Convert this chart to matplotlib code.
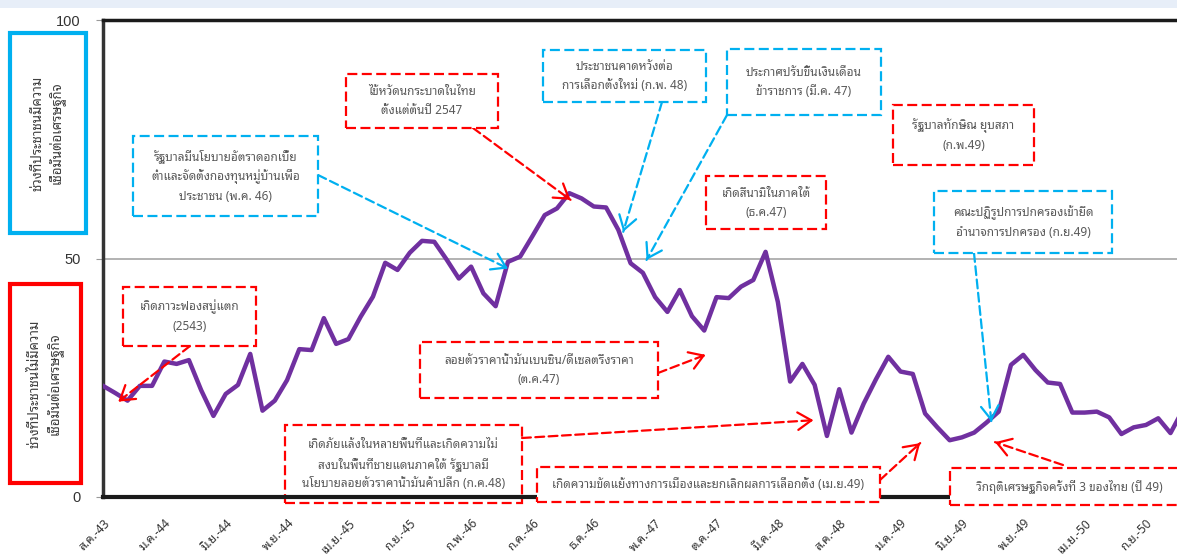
import matplotlib
matplotlib.use("Agg")
import matplotlib.pyplot as plt
from matplotlib.patches import Rectangle
import numpy as np

# ดัชนีความเชื่อมั่น รายเดือน ตั้งแต่ ส.ค.-43
values = [23.3, 21.8, 20.2, 23.3, 23.3, 28.4, 27.9, 28.7, 22.4, 17.0,
          21.6, 23.5, 30.0, 18.1, 20.2, 24.5, 31.0, 30.8, 37.5, 32.1,
          33.1, 37.8, 42.0, 49.1, 47.6, 51.2, 53.7, 53.5, 49.8, 45.8,
          48.3, 42.7, 40.0, 49.3, 50.4, 54.7, 59.1, 60.5, 63.7, 62.6,
          60.9, 60.7, 56.0, 49.0, 47.0, 41.9, 38.8, 43.4, 37.9, 34.9,
          41.9, 41.7, 44.1, 45.5, 51.4, 40.9, 24.2, 27.9, 23.5, 12.8,
          22.6, 13.5, 19.6, 24.7, 29.4, 26.3, 25.8, 17.5, 14.6, 11.9,
          12.5, 13.5, 15.6, 17.9, 27.7, 29.8, 26.6, 24.0, 23.7, 17.7,
          17.7, 17.9, 16.7, 13.2, 14.6, 15.1, 16.5, 13.4, 18.2]

tick_labels = ['ส.ค.-43', 'ม.ค.-44', 'มิ.ย.-44', 'พ.ย.-44', 'เม.ย.-45', 'ก.ย.-45',
               'ก.พ.-46', 'ก.ค.-46', 'ธ.ค.-46', 'พ.ค.-47', 'ต.ค.-47', 'มี.ค.-48',
               'ส.ค.-48', 'ม.ค.-49', 'มิ.ย.-49', 'พ.ย.-49', 'เม.ย.-50', 'ก.ย.-50']
tick_pos = [i * 5 for i in range(len(tick_labels))]

RED = '#ff0000'
BLUE = '#00b0f0'

# กล่องคำอธิบาย: ข้อความ, สี, กรอบ (พิกเซล), จุดเริ่มลูกศร, เป้าหมาย (เดือน, ค่า), เติมพื้นขาว
notes = [
    ("เกิดภาวะฟองสบู่แตก\n(2543)", RED, (123, 287, 256, 346), (190, 346), (1.25, 20.0), True),
    ("ลอยตัวราคาน้ำมันเบนซิน/ดีเซลตรึงราคา\n(ต.ค.47)", RED, (420, 342, 658, 398), (658, 373), (49.1, 29.8), True),
    ("เกิดภัยแล้งในหลายพื้นที่และเกิดความไม่\nสงบในพื้นที่ชายแดนภาคใต้ รัฐบาลมี\nนโยบายลอยตัวราคาน้ำมันค้าปลีก (ก.ค.48)",
     RED, (285, 425, 522, 503), (522, 438), (57.9, 16.1), False),
    ("เกิดความขัดแย้งทางการเมืองและยกเลิกผลการเลือกตั้ง (เม.ย.49)", RED, (537, 467, 880, 502), (880, 480), (66.6, 11.3), True),
    ("วิกฤติเศรษฐกิจครั้งที่ 3 ของไทย (ปี 49)", RED, (950, 468, 1190, 505), (1063, 465), (72.7, 11.5), True),
    ("รัฐบาลมีนโยบายอัตราดอกเบี้ย\nต่ำและจัดตั้งกองทุนหมู่บ้านเพื่อ\nประชาชน (พ.ค. 46)", BLUE, (133, 136, 318, 216), (318, 175), (33.0, 47.9), True),
    ("ไข้หวัดนกระบาดในไทย\nตั้งแต่ต้นปี 2547", RED, (346, 74, 498, 128), (473, 128), (38.1, 62.3), True),
    ("ประชาชนคาดหวังต่อ\nการเลือกตั้งใหม่ (ก.พ. 48)", BLUE, (543, 50, 706, 102), (662, 102), (42.4, 55.6), True),
    ("ประกาศปรับขึ้นเงินเดือน\nข้าราชการ (มี.ค. 47)", BLUE, (727, 49, 881, 115), (727, 115), (44.3, 49.7), True),
    ("เกิดสึนามิในภาคใต้\n(ธ.ค.47)", RED, (706, 176, 826, 229), None, None, True),
    ("รัฐบาลทักษิณ ยุบสภา\n(ก.พ.49)", RED, (893, 105, 1034, 165), None, None, True),
    ("คณะปฏิรูปการปกครองเข้ายึด\nอำนาจการปกครอง (ก.ย.49)", BLUE, (934, 191, 1112, 253), (974, 253), (72.4, 15.8), True),
]

side_labels = [
    ("ช่วงที่ประชาชนมีความ\nเชื่อมั่นต่อเศรษฐกิจ", BLUE, (10, 33, 86, 233)),
    ("ช่วงที่ประชาชนไม่มีความ\nเชื่อมั่นต่อเศรษฐกิจ", RED, (10, 284, 81, 483)),
]

W, H = 1177, 556
plt.rcParams['font.family'] = ['Noto Sans Thai Looped', 'DejaVu Sans']

fig = plt.figure(figsize=(W / 100, H / 100), dpi=100)


def fxy(px, py):
    return (px / W, 1 - py / H)


def rect(x0, y0, x1, y1, **kw):
    return Rectangle((x0 / W, 1 - y1 / H), (x1 - x0) / W, (y1 - y0) / H,
                     transform=fig.transFigure, **kw)


# แถบสีอ่อนด้านบน
fig.patches.append(rect(0, 0, W, 8, facecolor='#e7eef8', edgecolor='none', zorder=-2))

ax = fig.add_axes([103 / W, 1 - 497 / H, (W - 103) / W, 477 / H])
ax.patch.set_alpha(0)
ax.plot(range(len(values)), values, color='#7030a0', lw=3.2, zorder=3)
ax.axhline(50, color='#a6a6a6', lw=1.2, zorder=1)
ax.set_xlim(0, (W - 103) / 12.27)
ax.set_ylim(0, 100)

ax.spines['right'].set_visible(False)
ax.spines['left'].set_linewidth(2.5)
ax.spines['left'].set_color('#333333')
ax.spines['top'].set_linewidth(2.5)
ax.spines['top'].set_color('#1a1a1a')
ax.spines['bottom'].set_linewidth(3)
ax.spines['bottom'].set_color('#1a1a1a')

ax.set_yticks([0, 50, 100])
ax.set_yticklabels(['0', '50', '100'], fontfamily='Liberation Sans', fontsize=10.5, color='#333333')
ax.tick_params(axis='y', length=5, color='#999999', pad=11)
ax.set_xticks(tick_pos)
ax.set_xticklabels(tick_labels, rotation=45, ha='right', va='top',
                   rotation_mode='anchor', fontsize=8.5, color='#333333')
ax.tick_params(axis='x', length=0, pad=14)

for text, color, (x0, y0, x1, y1) in side_labels:
    fig.patches.append(rect(x0, y0, x1, y1, fill=False, edgecolor=color, lw=3, zorder=2))
    cx, cy = fxy((x0 + x1) / 2, (y0 + y1) / 2)
    fig.text(cx, cy, text, rotation=90, ha='center', va='center', multialignment='center',
             fontsize=9.5, color='#404040', linespacing=1.3)

for text, color, (x0, y0, x1, y1), tail, target, filled in notes:
    fig.patches.append(rect(x0, y0, x1, y1, facecolor='white', fill=filled, edgecolor=color,
                            lw=1.6, ls=(0, (4.5, 2)), zorder=2 if filled else -1))
    cx, cy = fxy((x0 + x1) / 2, (y0 + y1) / 2)
    fig.text(cx, cy, text, ha='center', va='center', multialignment='center',
             fontsize=8.5, color='#595959', linespacing=1.6, zorder=3)
    if tail is None:
        continue
    tail_fig = fxy(*tail)
    ax.annotate('', xy=target, xycoords='data', xytext=tail_fig, textcoords='figure fraction',
                arrowprops=dict(arrowstyle='-', color=color, lw=1.6, ls=(0, (4, 2)),
                                shrinkA=0, shrinkB=0),
                annotation_clip=False, zorder=4)
    # หัวลูกศรเส้นทึบ
    t = ax.transData.transform(target)
    s = fig.transFigure.transform(tail_fig)
    u = (s - t) / np.hypot(*(s - t))
    start = fig.transFigure.inverted().transform(t + u * 3)
    ax.annotate('', xy=target, xycoords='data', xytext=start, textcoords='figure fraction',
                arrowprops=dict(arrowstyle='->,head_length=0.7,head_width=0.45', color=color,
                                lw=1.6, shrinkA=0, shrinkB=0, mutation_scale=14),
                annotation_clip=False, zorder=4)

fig.savefig("out.png", dpi=100, facecolor='white')
